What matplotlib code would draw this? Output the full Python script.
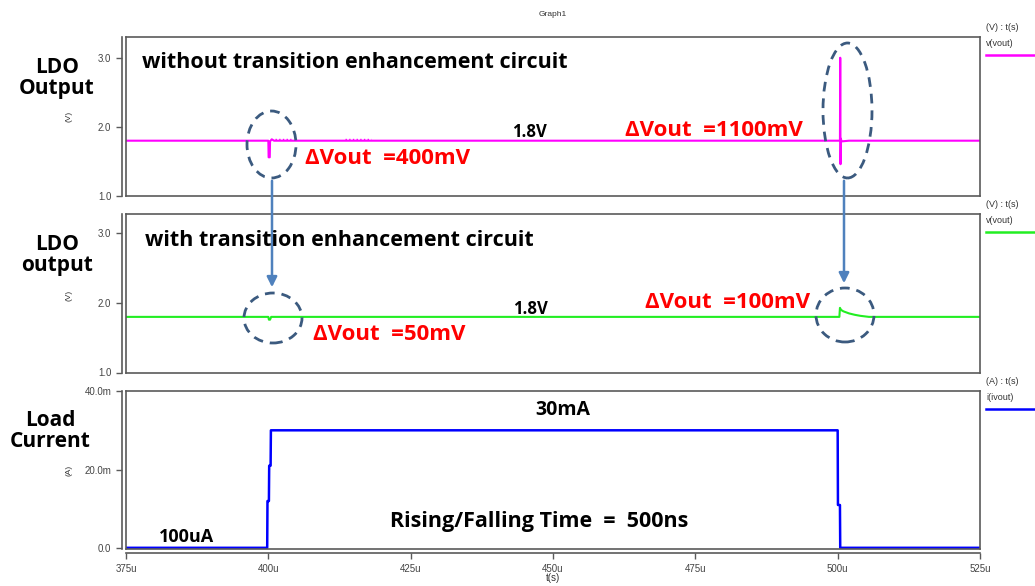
import matplotlib.pyplot as plt
from matplotlib.patches import Ellipse, FancyArrowPatch

W, H = 1035, 586

# time in us
top_t = [375.0, 400.0, 400.05, 400.25, 400.3, 400.6, 401.0, 500.4, 500.45, 500.5, 500.55, 500.7, 502.0, 525.0]
top_v = [1.80, 1.80, 1.56, 1.56, 1.79, 1.82, 1.80, 1.80, 3.00, 1.46, 1.83, 1.79, 1.80, 1.80]
ripple_t = [[401.2, 404.0], [413.5, 418.0]]
ripple_v = [1.83, 1.83]

mid_t = [375.0, 400.0, 400.1, 400.3, 400.5, 500.3, 500.4, 500.6, 501.0, 502.0, 503.0, 504.0, 505.5, 525.0]
mid_v = [1.80, 1.80, 1.76, 1.76, 1.80, 1.80, 1.93, 1.90, 1.88, 1.85, 1.83, 1.815, 1.80, 1.80]

# load current in mA
cur_t = [375.0, 399.8, 399.85, 400.1, 400.15, 400.4, 400.45, 500.0, 500.05, 500.4, 500.45, 525.0]
cur_i = [0.1, 0.1, 12, 12, 21, 21, 30, 30, 11, 11, 0.1, 0.1]

x_ticks = [375, 400, 425, 450, 475, 500, 525]
x_labels = ["375u", "400u", "425u", "450u", "475u", "500u", "525u"]
v_ticks = [1.0, 2.0, 3.0]
v_labels = ["1.0", "2.0", "3.0"]
i_ticks = [0, 20, 40]
i_labels = ["0.0", "20.0m", "40.0m"]

GREY = "#5a5a5a"
TICKFONT = "Liberation Sans"
ANN = ["Open Sans", "DejaVu Sans"]


def fx(x):
    return x / W


def fy(y):
    return 1 - y / H


def make_axes(top, bottom):
    ax = fig.add_axes([fx(126), fy(bottom), fx(980) - fx(126), fy(top) - fy(bottom)])
    for s in ax.spines.values():
        s.set_color(GREY)
        s.set_linewidth(1.2)
    ax.spines["left"].set_position(("outward", 3))
    ax.tick_params(axis="both", colors=GREY, length=4, width=1, labelsize=7)
    return ax


fig = plt.figure(figsize=(W / 100, H / 100), dpi=100)

# top panel
ax1 = make_axes(37, 196)
ax1.plot(top_t, top_v, color="#ff00ff", lw=1.5)
for rt, rv in zip(ripple_t, ripple_v):
    ax1.plot(rt, [rv, rv], color="#ff00ff", lw=1, ls=":")
ax1.set_xlim(375, 525)
ax1.set_ylim(1.0, 3.3)
ax1.set_yticks(v_ticks, v_labels, family=TICKFONT, color="#444444")
ax1.tick_params(axis="x", bottom=False, labelbottom=False)
ax1.axvline(375, color=GREY, lw=1.2, clip_on=False)

# middle panel
ax2 = make_axes(214, 372.5)
ax2.plot(mid_t, mid_v, color="#22ee22", lw=1.5)
ax2.set_xlim(375, 525)
ax2.set_ylim(1.0, 3.28)
ax2.set_yticks(v_ticks, v_labels, family=TICKFONT, color="#444444")
ax2.tick_params(axis="x", bottom=False, labelbottom=False)
ax2.axvline(375, color=GREY, lw=1.2, clip_on=False)

# bottom panel
ax3 = make_axes(391, 549)
ax3.plot(cur_t, cur_i, color="#0000ff", lw=1.8)
ax3.set_xlim(375, 525)
ax3.set_ylim(-0.2, 40)
ax3.spines["bottom"].set_position(("outward", 3))
ax3.set_yticks(i_ticks, i_labels, family=TICKFONT, color="#444444")
ax3.set_xticks(x_ticks, x_labels, family=TICKFONT, color="#444444")
ax3.axvline(375, color=GREY, lw=1.2, clip_on=False)
ax3.axhline(-0.2, color=GREY, lw=1.2, clip_on=False)

# titles / axis labels
fig.text(fx(553), fy(15), "Graph1", ha="center", va="center", fontsize=6,
         family=TICKFONT, color="#333333")
fig.text(fx(553), fy(578), "t(s)", ha="center", va="center", fontsize=7,
         family=TICKFONT, color="#333333")
for y, u in [(116, "(V)"), (295, "(V)"), (470, "(A)")]:
    fig.text(fx(69), fy(y), u, ha="center", va="center", fontsize=6,
             family=TICKFONT, color="#333333", rotation=90)

# legend-like labels at right
for y, name, col in [(27, "v(vout)", "#ff00ff"), (204, "v(vout)", "#22ee22"),
                     (381, "i(ivout)", "#0000ff")]:
    unit = "(A) : t(s)" if name.startswith("i") else "(V) : t(s)"
    fig.text(fx(986), fy(y), unit, ha="left", va="center", fontsize=6.5,
             family=TICKFONT, color="#333333")
    fig.text(fx(986), fy(y + 17), name, ha="left", va="center", fontsize=6.5,
             family=TICKFONT, color="#333333")
    fig.add_artist(plt.Line2D([fx(986), fx(1035)], [fy(y + 28), fy(y + 28)],
                              color=col, lw=1.8, transform=fig.transFigure))

# left labels
for x, y, s in [(57, 78, "LDO\nOutput"), (57, 255, "LDO\noutput"), (50, 431, "Load\nCurrent")]:
    fig.text(fx(x), fy(y), s, ha="center", va="center", fontsize=15,
             fontweight="bold", family=ANN, linespacing=1.0)

# annotations
notes = [
    (142, 63, "without transition enhancement circuit", "black", 15.5),
    (305, 158, "ΔVout  =400mV", "red", 16),
    (512, 132, "1.8V", "black", 12),
    (625, 130, "ΔVout  =1100mV", "red", 16),
    (145, 240, "with transition enhancement circuit", "black", 15.5),
    (313, 335, "ΔVout  =50mV", "red", 16),
    (513, 309, "1.8V", "black", 12),
    (645, 303, "ΔVout  =100mV", "red", 16),
    (535, 410, "30mA", "black", 14),
    (159, 537, "100uA", "black", 13),
    (390, 522, "Rising/Falling Time  =  500ns", "black", 15.5),
]
for x, y, s, c, fs in notes:
    fig.text(fx(x), fy(y), s, ha="left", va="center", fontsize=fs,
             fontweight="bold", color=c, family=ANN)

# dashed ellipses
for cx, cy, w, h in [(271.5, 144.5, 49, 67), (847.5, 110.5, 49, 135),
                     (273, 318, 58, 50), (845, 315, 58, 54)]:
    e = Ellipse((fx(cx), fy(cy)), w / W, h / H, transform=fig.transFigure,
                fill=False, edgecolor="#3b5a7f", lw=2, ls=(0, (3.5, 2.5)))
    fig.add_artist(e)

# arrows
for x, y0, y1 in [(272, 178, 290), (844, 178, 286)]:
    a = FancyArrowPatch((fx(x), fy(y0)), (fx(x), fy(y1)), transform=fig.transFigure,
                        arrowstyle="-|>,head_length=6,head_width=3",
                        color="#4f81bd", lw=1.8)
    fig.add_artist(a)

fig.savefig("out.png", dpi=100)
